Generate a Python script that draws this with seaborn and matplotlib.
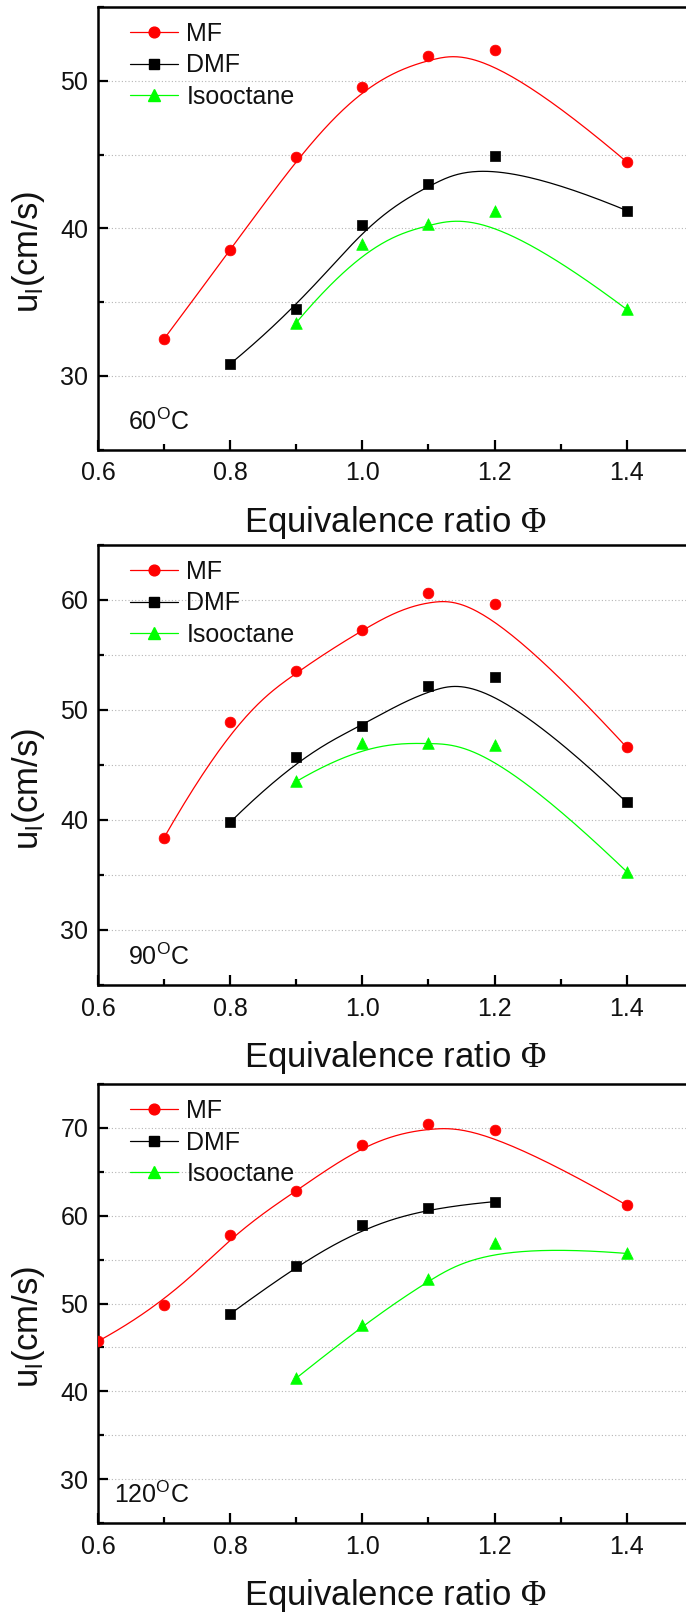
import numpy as np
import pandas as pd
import matplotlib
matplotlib.use("Agg")
import matplotlib.pyplot as plt
import seaborn as sns
from matplotlib.lines import Line2D
from matplotlib.ticker import MultipleLocator

# ---------------- data ----------------
series_names = ["MF", "DMF", "Isooctane"]
temperatures = ["60", "90", "120"]

phi_60_mf = [0.7, 0.8, 0.9, 1.0, 1.1, 1.2, 1.4]
u_60_mf = [32.5, 38.5, 44.8, 49.6, 51.7, 52.1, 44.5]
phi_60_dmf = [0.8, 0.9, 1.0, 1.1, 1.2, 1.4]
u_60_dmf = [30.8, 34.5, 40.2, 43.0, 44.9, 41.2]
phi_60_iso = [0.9, 1.0, 1.1, 1.2, 1.4]
u_60_iso = [33.6, 38.9, 40.3, 41.2, 34.5]

phi_90_mf = [0.7, 0.8, 0.9, 1.0, 1.1, 1.2, 1.4]
u_90_mf = [38.4, 48.9, 53.5, 57.3, 60.6, 59.6, 46.6]
phi_90_dmf = [0.8, 0.9, 1.0, 1.1, 1.2, 1.4]
u_90_dmf = [39.8, 45.7, 48.5, 52.2, 53.0, 41.6]
phi_90_iso = [0.9, 1.0, 1.1, 1.2, 1.4]
u_90_iso = [43.5, 47.0, 47.0, 46.8, 35.3]

phi_120_mf = [0.6, 0.7, 0.8, 0.9, 1.0, 1.1, 1.2, 1.4]
u_120_mf = [45.7, 49.8, 57.8, 62.8, 68.1, 70.4, 69.8, 61.2]
phi_120_dmf = [0.8, 0.9, 1.0, 1.1, 1.2]
u_120_dmf = [48.8, 54.3, 58.9, 60.9, 61.6]
phi_120_iso = [0.9, 1.0, 1.1, 1.2, 1.4]
u_120_iso = [41.5, 47.5, 52.8, 56.9, 55.7]

x_ticks = [0.6, 0.8, 1.0, 1.2, 1.4]
y_limits = [(25, 55), (25, 65), (25, 75)]

panels = [
    {"temp": temperatures[0], "ylim": y_limits[0],
     "data": [(phi_60_mf, u_60_mf), (phi_60_dmf, u_60_dmf), (phi_60_iso, u_60_iso)]},
    {"temp": temperatures[1], "ylim": y_limits[1],
     "data": [(phi_90_mf, u_90_mf), (phi_90_dmf, u_90_dmf), (phi_90_iso, u_90_iso)]},
    {"temp": temperatures[2], "ylim": y_limits[2],
     "data": [(phi_120_mf, u_120_mf), (phi_120_dmf, u_120_dmf), (phi_120_iso, u_120_iso)]},
]

# ---------------- style ----------------
colors = ["#ff0000", "#000000", "#00ff00"]
markers = ["o", "s", "^"]
msizes = [60, 42, 70]

sns.set_theme(style="ticks")
plt.rcParams["font.family"] = ["Liberation Sans", "DejaVu Sans"]
plt.rcParams["mathtext.fontset"] = "custom"
plt.rcParams["mathtext.rm"] = "Liberation Sans"
plt.rcParams["mathtext.it"] = "Liberation Sans:italic"
plt.rcParams["mathtext.sf"] = "Liberation Serif"
plt.rcParams["axes.unicode_minus"] = False


def bspline_curve(xs, ys, degree=3, num=300):
    """Clamped uniform B-spline using the data points as control points
    (the 'B-Spline' connection used by the original plotting software)."""
    P = np.column_stack([np.asarray(xs, float), np.asarray(ys, float)])
    n = len(P)
    p = min(degree, n - 1)
    t = np.concatenate([np.zeros(p + 1), np.arange(1, n - p), np.full(p + 1, n - p)]).astype(float)
    us = np.linspace(0, n - p, num)
    out = []
    for u in us:
        if u >= t[n]:
            k = n - 1
        else:
            k = int(np.searchsorted(t, u, side="right") - 1)
        d = [P[j + k - p].copy() for j in range(p + 1)]
        for r in range(1, p + 1):
            for j in range(p, r - 1, -1):
                den = t[j + 1 + k - r] - t[j + k - p]
                a = 0.0 if den == 0 else (u - t[j + k - p]) / den
                d[j] = (1.0 - a) * d[j - 1] + a * d[j]
        out.append(d[p])
    out = np.array(out)
    return out[:, 0], out[:, 1]


W, H = 686, 1613
fig = plt.figure(figsize=(W / 100, H / 100), dpi=100)

left_px, right_px = 98, 692.8
tops = [7, 545, 1084]
bottoms = [449.5, 985, 1523]

for pi, panel in enumerate(panels):
    ax = fig.add_axes([left_px / W, 1 - bottoms[pi] / H,
                       (right_px - left_px) / W, (bottoms[pi] - tops[pi]) / H])
    ax.set_facecolor("white")
    ph = bottoms[pi] - tops[pi]

    handles = []
    for si, (xs, ys) in enumerate(panel["data"]):
        bx, by = bspline_curve(xs, ys)
        curve = pd.DataFrame({"phi": bx, "u": by})
        sns.lineplot(data=curve, x="phi", y="u", sort=False, estimator=None,
                     color=colors[si], linewidth=0.9, ax=ax, zorder=2)
        pts = pd.DataFrame({"phi": xs, "u": ys})
        sns.scatterplot(data=pts, x="phi", y="u", marker=markers[si], s=msizes[si],
                        color=colors[si], edgecolor=colors[si], linewidth=0.5,
                        ax=ax, zorder=3)
        handles.append(Line2D([], [], color=colors[si], marker=markers[si],
                              markersize=np.sqrt(msizes[si]), linewidth=0.9,
                              markeredgecolor=colors[si], label=series_names[si]))

    ax.set_xlim(0.6, 1.5)
    ax.set_ylim(*panel["ylim"])
    ax.set_xticks(x_ticks)
    ax.xaxis.set_major_formatter(matplotlib.ticker.FormatStrFormatter("%.1f"))
    ax.xaxis.set_minor_locator(MultipleLocator(0.1))
    ax.yaxis.set_major_locator(MultipleLocator(10))
    ax.yaxis.set_minor_locator(MultipleLocator(5))

    ax.grid(False)
    ax.grid(True, axis="y", which="both", linestyle=(0, (1, 2)), linewidth=0.8,
            color="#b5b5b5", zorder=0)
    ax.set_axisbelow(True)

    for s in ax.spines.values():
        s.set_linewidth(1.8)
        s.set_color("black")
    ax.tick_params(which="both", direction="in", width=1.6, colors="black",
                   top=False, right=False, labelsize=18, labelcolor="#111111")
    ax.tick_params(which="major", length=7)
    ax.tick_params(which="minor", length=4.5)
    ax.tick_params(axis="x", which="both", pad=8.5)
    ax.tick_params(axis="y", which="both", pad=7)

    ax.set_xlabel(r"Equivalence ratio $\mathsf{\Phi}$", fontsize=25, color="#111111")
    ax.xaxis.set_label_coords(0.5, -54.5 / ph)
    ax.set_ylabel(r"u$_\mathrm{l}$(cm/s)", fontsize=25, color="#111111")
    ax.yaxis.set_label_coords(-51 / (right_px - left_px), 0.446)

    ax.text((189 - left_px) / (right_px - left_px), 20 / ph,
            panel["temp"] + r"$^\mathrm{O}$C", transform=ax.transAxes,
            ha="right", va="baseline", fontsize=18, color="#111111")

    leg = ax.legend(handles=handles, loc="upper left",
                    bbox_to_anchor=((130 - left_px) / (right_px - left_px), 1 - 15 / ph),
                    frameon=False, fontsize=18, handlelength=1.9, handletextpad=0.36,
                    labelspacing=0.3, borderaxespad=0, borderpad=0)
    for t in leg.get_texts():
        t.set_color("#111111")

fig.savefig("out.png", dpi=100)
